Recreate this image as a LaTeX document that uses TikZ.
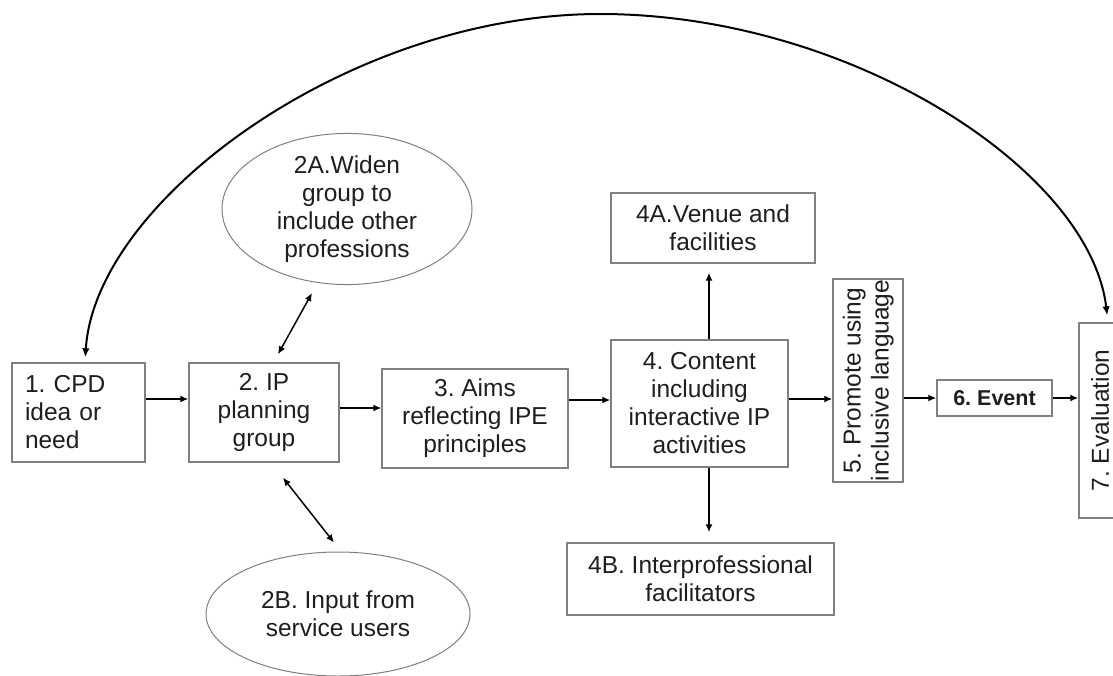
\documentclass[tikz,border=0pt]{standalone}
\usepackage{fontspec}
\setmainfont{Liberation Sans}
\usetikzlibrary{shapes.geometric,arrows.meta,calc}
\definecolor{boxgray}{HTML}{7F7F7F}
\definecolor{txt}{HTML}{1E1E1E}
\newcommand{\diafont}{\fontsize{24.5}{28}\selectfont\frenchspacing}
\newcommand{\evfont}{\fontsize{21.5}{25}\selectfont\bfseries\frenchspacing}
\begin{document}
\begin{tikzpicture}[x=1pt,y=-1pt,
  box/.style={draw=boxgray, line width=1.4pt, inner sep=0pt, align=center, font=\diafont, text=txt},
  ell/.style={ellipse, draw=boxgray, line width=1pt, inner sep=0pt, align=center, font=\diafont, text=txt},
  arr/.style={-{Latex[length=8pt,width=7pt]}, line width=1.5pt},
  dbl/.style={{Latex[length=8pt,width=7pt]}-{Latex[length=8pt,width=7pt]}, line width=1.5pt},
  curv/.style={{Latex[length=9pt,width=7.5pt]}-{Latex[length=9pt,width=7.5pt]}, line width=2pt},
]
\useasboundingbox (0,0) rectangle (1113,675);
\clip (0,0) rectangle (1113,675);

% boxes
\node[box, minimum width=133pt, minimum height=99pt, text width=107pt, align=left] (n1) at (78.5,412.5) {1. CPD\\idea or\\need};
\node[box, minimum width=150pt, minimum height=99pt] (n2) at (264,412.5) {2. IP\\planning\\group};
\node[box, minimum width=186pt, minimum height=99pt] (n3) at (475,418.5) {3. Aims\\reflecting IPE\\principles};
\node[box, minimum width=177pt, minimum height=127pt] (n4) at (699.5,403.5) {4. Content\\including\\interactive IP\\activities};
\node[box, minimum width=204pt, minimum height=70pt] (n4a) at (713,228) {4A.Venue and\\facilities};
\node[box, minimum width=267pt, minimum height=72pt] (n4b) at (700.5,579) {4B. Interprofessional\\facilitators};
\node[box, minimum width=70pt, minimum height=203pt] (n5) at (868,380.5)
  {\hspace*{2pt}\rotatebox{90}{\begin{tabular}{@{}c@{}}5. Promote using\\inclusive language\end{tabular}}};
\node[box, minimum width=115pt, minimum height=36pt, font=\evfont] (n6) at (994.5,398) {6. Event};
\node[box, minimum width=46pt, minimum height=195pt] (n7) at (1102,420.5) {\hspace*{-4pt}\rotatebox{90}{7. Evaluation}};

% ellipses
\node[ell, minimum width=250pt, minimum height=144pt] (e2a) at (347,209) {2A.Widen\\group to\\include other\\professions};
\node[ell, minimum width=264pt, minimum height=124pt] (e2b) at (338,614) {2B. Input from\\service users};

% main flow
\draw[arr] ([yshift=13.5pt]n1.east) -- ([yshift=13.5pt]n1.east -| n2.west);
\draw[arr] ([yshift=4.5pt]n2.east) -- ([yshift=4.5pt]n2.east -| n3.west);
\draw[arr] ([yshift=18.5pt]n3.east) -- ([yshift=18.5pt]n3.east -| n4.west);
\draw[arr] ([yshift=4.5pt]n4.east) -- ([yshift=4.5pt]n4.east -| n5.west);
\draw[arr] (n5.east |- n6.west) -- (n6.west);
\draw[arr] (n6.east) -- (n6.east -| n7.west);

% branches of 4
\draw[arr, shorten >=9pt] ([xshift=9.5pt]n4.north) -- ([xshift=9.5pt]n4.north |- n4a.south);
\draw[arr, shorten >=10pt] ([xshift=9.5pt]n4.south) -- ([xshift=9.5pt]n4.south |- n4b.north);

% links of 2
\draw[dbl] ($(n2.north)+(14,-8)$) -- ($(e2a.south)+(-35,8)$);
\draw[dbl] ($(n2.south)+(19,15)$) -- ($(e2b.north)+(-4,-9)$);

% feedback curve
\draw[curv, shorten <=5pt, shorten >=7pt] ([xshift=6.5pt]n1.north) .. controls (95,200) and (350,14) .. (600,14)
  .. controls (850,14) and (1090,170) .. ([xshift=6pt]n7.north);
\end{tikzpicture}
\end{document}
